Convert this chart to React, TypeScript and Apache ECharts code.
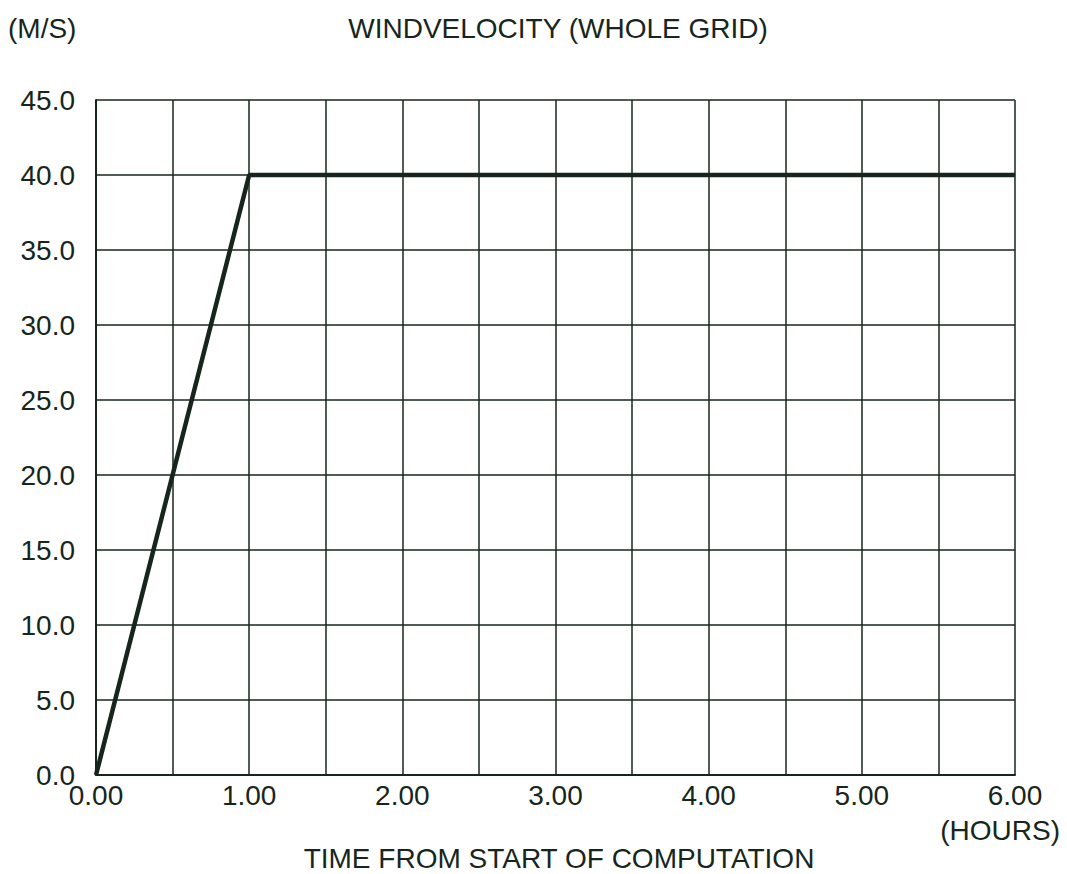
import React, { useEffect, useRef } from "react";
import * as echarts from "echarts";

const timeHours: number[] = [0, 1, 6];
const windSpeed: number[] = [0, 40, 40];
const titleText = "WINDVELOCITY (WHOLE GRID)";
const yUnit = "(M/S)";
const xUnit = "(HOURS)";
const xName = "TIME FROM START OF COMPUTATION";

const INK = "#17261d";
const FONT = "'Liberation Sans', Arial, sans-serif";
const FS = 28;

export default function App() {
  const ref = useRef<HTMLDivElement>(null);
  useEffect(() => {
    document.body.style.margin = "0";
    const chart = echarts.init(ref.current!, null, { renderer: "svg" });
    const data = timeHours.map((t, i) => [t, windSpeed[i]]);
    const txt = (text: string, x: number, y: number, align: string) => ({
      type: "text",
      x,
      y,
      style: {
        text,
        fontSize: FS,
        fill: INK,
        fontFamily: FONT,
        textAlign: align,
        textVerticalAlign: "middle",
      },
    });
    chart.setOption({
      animation: false,
      backgroundColor: "#ffffff",
      textStyle: { fontFamily: FONT, color: INK },
      grid: { left: 96, right: 52, top: 100, bottom: 99, containLabel: false },
      xAxis: {
        type: "value",
        min: 0,
        max: 6,
        interval: 0.5,
        axisLine: { show: true, lineStyle: { color: INK, width: 2 } },
        axisTick: { show: false },
        splitLine: { show: true, lineStyle: { color: INK, width: 1.5 } },
        axisLabel: {
          margin: 6,
          fontSize: FS,
          color: INK,
          fontFamily: FONT,
          formatter: (v: number) => (Number.isInteger(v) ? v.toFixed(2) : ""),
        },
      },
      yAxis: {
        type: "value",
        min: 0,
        max: 45,
        interval: 5,
        axisLine: { show: true, lineStyle: { color: INK, width: 2 } },
        axisTick: { show: false },
        splitLine: { show: true, lineStyle: { color: INK, width: 1.5 } },
        axisLabel: {
          margin: 21,
          fontSize: FS,
          color: INK,
          fontFamily: FONT,
          padding: [0, 0, 6, 0],
          formatter: (v: number) => v.toFixed(1),
        },
      },
      series: [
        {
          type: "line",
          data,
          symbol: "none",
          lineStyle: { color: INK, width: 4.5 },
        },
      ],
      graphic: [
        txt(titleText, 558, 28, "center"),
        txt(yUnit, 8, 28, "left"),
        txt(xUnit, 1060, 830, "right"),
        txt(xName, 559, 858, "center"),
      ],
    });
    return () => chart.dispose();
  }, []);
  return <div ref={ref} style={{ width: 1067, height: 874 }} />;
}
